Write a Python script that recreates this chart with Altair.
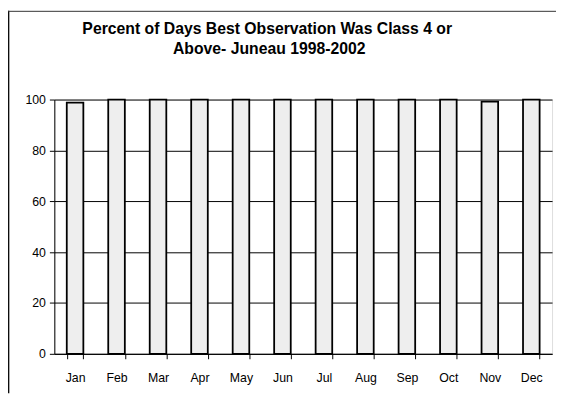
import altair as alt
import pandas as pd

months = ["Jan", "Feb", "Mar", "Apr", "May", "Jun", "Jul", "Aug", "Sep", "Oct", "Nov", "Dec"]
percent = [98.8, 100, 100, 100, 100, 100, 100, 100, 100, 100, 99.2, 100]
y_ticks = [0, 20, 40, 60, 80, 100]
title_lines = ["Percent of Days Best Observation Was Class 4 or", "Above- Juneau 1998-2002"]

df = pd.DataFrame({"Month": months, "Percent": percent})
one = pd.DataFrame({"k": [0]})

W, H = 505, 258

bars = alt.Chart(df).mark_bar(
    fill="#eeeeee", stroke="black", strokeWidth=1.8
).encode(
    x=alt.X("Month:N", sort=months, title=None,
            scale=alt.Scale(paddingInner=0.6, paddingOuter=0.3),
            axis=alt.Axis(labelAngle=0, tickBand="extent", domainColor="black",
                          tickColor="black", tickSize=5, labelPadding=13,
                          labelFontSize=12.5, labelColor="black", labelFont="Liberation Sans")),
    y=alt.Y("Percent:Q", title=None,
            scale=alt.Scale(domain=[0, 100], nice=False),
            axis=alt.Axis(values=y_ticks, grid=True, gridColor="black", gridWidth=1,
                          domainColor="black", tickColor="black", tickSize=5,
                          labelPadding=4, labelFontSize=12.5, labelColor="black",
                          labelFont="Liberation Sans")),
)

left_line = alt.Chart(one).mark_rule(color="black", strokeWidth=1.3, clip=False).encode(
    x=alt.value(-46.3), y=alt.value(-90), y2=alt.value(H + 40)
)
top_line = alt.Chart(one).mark_rule(color="#333333", strokeWidth=1, clip=False).encode(
    x=alt.value(-47), x2=alt.value(W + 10), y=alt.value(-89.5)
)

title1 = alt.Chart(one).mark_text(
    text=title_lines[0], font="Liberation Sans", fontSize=16, fontWeight="bold",
    color="black", align="center", baseline="middle", clip=False
).encode(x=alt.value(216), y=alt.value(-71))
title2 = alt.Chart(one).mark_text(
    text=title_lines[1], font="Liberation Sans", fontSize=16, fontWeight="bold",
    color="black", align="center", baseline="middle", clip=False
).encode(x=alt.value(218), y=alt.value(-51.5))

chart = alt.layer(left_line, top_line, bars, title1, title2).properties(
    width=W, height=H,
    padding={"left": 47, "top": 90, "right": 4, "bottom": 46},
    autosize=alt.AutoSizeParams(type="none"),
).configure_view(stroke=None).configure(background="white")

chart.save("out.html", embed_options={"renderer": "svg", "actions": False})
